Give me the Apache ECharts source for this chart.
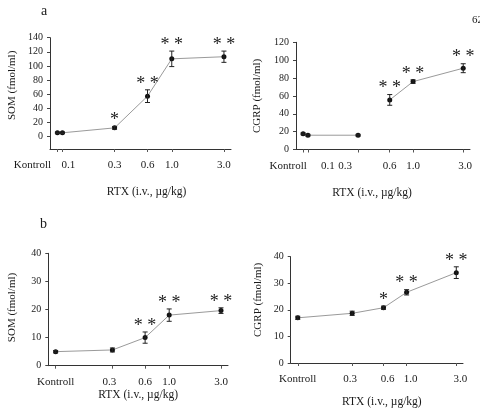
<!DOCTYPE html>
<html>
<head>
<meta charset="utf-8">
<script src="https://cdn.jsdelivr.net/npm/echarts@6/dist/echarts.min.js"></script>
<style>
  html, body { margin: 0; padding: 0; background: #fff; }
  #chart { width: 480px; height: 409px; }
</style>
</head>
<body>
<div id="chart"></div>
<script>
// Dose groups in µg/kg (log axis). The control group is plotted just left of the lowest dose.
const labelsA = ['Kontroll', '0.1', '0.3', '0.6', '1.0', '3.0'];
const dosesA = [0.09, 0.1, 0.3, 0.6, 1.0, 3.0];
const labelsB = ['Kontroll', '0.3', '0.6', '1.0', '3.0'];
const dosesB = [0.09, 0.3, 0.6, 1.0, 3.0];

// a: SOM
const somA = [5, 5, 12, 57, 110, 113];
const somAErr = [1, 1, 2, 9, 11, 8];
const somASig = [0, 0, 1, 2, 2, 2];
// a: CGRP
const cgrpA = [17.5, 16, 16, 55.5, 76, 91];
const cgrpAErr = [1, 1, 1, 6, 2, 5];
const cgrpASig = [0, 0, 0, 2, 2, 2];
// b: SOM
const somB = [5, 5.6, 10, 18, 19.6];
const somBErr = [0.4, 0.7, 2, 2.2, 1];
const somBSig = [0, 0, 2, 2, 2];
// b: CGRP
const cgrpB = [17, 18.7, 20.8, 26.6, 34];
const cgrpBErr = [0.6, 0.8, 0.6, 1, 2.2];
const cgrpBSig = [0, 0, 1, 2, 2];

// y tick labels
const somATicks = [0, 20, 40, 60, 80, 100, 120, 140];
const cgrpATicks = [0, 20, 40, 60, 80, 100, 120];
const bTicks = [0, 10, 20, 30, 40];

const FONT = '"Liberation Serif", "DejaVu Serif", serif';
const INK = '#1a1a1a';
const lg = v => Math.log10(v);

// horizontal nudge (px) of each dose label relative to its tick
const panels = [
  { grid: { left: 50, top: 37.7, width: 181, height: 111.3 },
    doses: dosesA, labels: labelsA, nudge: [-25, 6, 0, 0, 0, 0],
    values: somA, errs: somAErr, sig: somASig, breaks: [],
    yMin: -18, yMax: 140, yTicks: somATicks, yName: 'SOM (fmol/ml)',
    yNameGap: 32.5, yNamePad: [0, 0, 0, 16], xNameGap: 37, xNamePad: [0, 0, 0, 12] },
  { grid: { left: 296, top: 42.3, width: 174, height: 107.2 },
    doses: dosesA, labels: labelsA, nudge: [-15, 20, -13, 0, 0, 2],
    values: cgrpA, errs: cgrpAErr, sig: cgrpASig, breaks: [2],
    yMin: 0, yMax: 120, yTicks: cgrpATicks, yName: 'CGRP (fmol/ml)',
    yNameGap: 33.5, yNamePad: [0, 0, 0, 0], xNameGap: 37, xNamePad: [0, 22, 0, 0] },
  { grid: { left: 48.3, top: 253.3, width: 179.7, height: 112.4 },
    doses: dosesB, labels: labelsB, nudge: [0, -3, 0, 0, 0],
    values: somB, errs: somBErr, sig: somBSig, breaks: [],
    yMin: 0, yMax: 40, yTicks: bTicks, yName: 'SOM (fmol/ml)',
    yNameGap: 30.5, yNamePad: [0, 0, 0, 4], xNameGap: 21.5, xNamePad: [0, 0, 0, 0] },
  { grid: { left: 290.7, top: 256.7, width: 172.3, height: 107.6 },
    doses: dosesB, labels: labelsB, nudge: [0, -2, 4, 4, 4],
    values: cgrpB, errs: cgrpBErr, sig: cgrpBSig, breaks: [],
    yMin: 0, yMax: 40, yTicks: bTicks, yName: 'CGRP (fmol/ml)',
    yNameGap: 27, yNamePad: [0, 0, 0, 20], xNameGap: 33, xNamePad: [0, 0, 0, 10] }
];

const X_MIN = lg(0.077), X_MAX = lg(3.48);

const grids = [], xAxes = [], yAxes = [], series = [];

panels.forEach((p, i) => {
  grids.push(Object.assign({ containLabel: false }, p.grid));

  // one rich style per label so each can carry its own nudge
  const rich = {};
  p.labels.forEach((t, k) => {
    const n = p.nudge[k];
    rich['l' + k] = {
      fontFamily: FONT, fontSize: 11, color: INK,
      padding: n >= 0 ? [0, 0, 0, 2 * n] : [0, -2 * n, 0, 0]
    };
  });

  xAxes.push({
    type: 'value', gridIndex: i, min: X_MIN, max: X_MAX,
    name: 'RTX (i.v., µg/kg)', nameLocation: 'middle', nameGap: p.xNameGap,
    nameTextStyle: { fontFamily: FONT, fontSize: 11.5, color: INK, padding: p.xNamePad },
    axisLine: { onZero: false, lineStyle: { color: '#333', width: 1 } },
    axisTick: { show: true, length: 3, customValues: p.doses.map(lg), lineStyle: { color: '#555' } },
    axisLabel: {
      customValues: p.doses.map(lg), margin: 11, hideOverlap: false,
      fontFamily: FONT, fontSize: 11, color: INK, rich: rich,
      formatter: v => {
        let best = 0, d = Infinity;
        p.doses.forEach((a, k) => { const dd = Math.abs(lg(a) - v); if (dd < d) { d = dd; best = k; } });
        return '{l' + best + '|' + p.labels[best] + '}';
      }
    },
    splitLine: { show: false }
  });

  yAxes.push({
    type: 'value', gridIndex: i, min: p.yMin, max: p.yMax,
    name: p.yName, nameLocation: 'middle', nameGap: p.yNameGap,
    nameTextStyle: { fontFamily: FONT, fontSize: 11, color: INK, padding: p.yNamePad },
    axisLine: { show: true, onZero: false, lineStyle: { color: '#333', width: 1 } },
    axisTick: { show: true, length: 3, customValues: p.yTicks, lineStyle: { color: '#444' } },
    axisLabel: { customValues: p.yTicks, margin: 7, fontFamily: FONT, fontSize: 10, color: INK },
    splitLine: { show: false }
  });

  // connecting line, split where the curve is interrupted
  const pts = p.doses.map((d, k) => [lg(d), p.values[k]]);
  const cuts = [0].concat(p.breaks.map(b => b + 1), [pts.length]);
  for (let s = 0; s < cuts.length - 1; s++) {
    series.push({
      type: 'line', xAxisIndex: i, yAxisIndex: i,
      data: pts.slice(cuts[s], cuts[s + 1]),
      symbol: 'circle', symbolSize: 5,
      itemStyle: { color: '#111' },
      lineStyle: { color: '#9a9a9a', width: 1 },
      z: 3, silent: true
    });
  }

  // SEM bars and significance marks
  series.push({
    type: 'custom', xAxisIndex: i, yAxisIndex: i, z: 4, silent: true,
    data: p.doses.map((d, k) => [lg(d), p.values[k], p.errs[k], p.sig[k]]),
    encode: { x: 0, y: 1 },
    renderItem: (params, api) => {
      const x = api.value(0), y = api.value(1), e = api.value(2), n = api.value(3);
      const top = api.coord([x, y + e]);
      const bot = api.coord([x, y - e]);
      const cap = 2.5;
      const children = [
        { type: 'line', shape: { x1: top[0], y1: top[1], x2: bot[0], y2: bot[1] }, style: { stroke: '#222', lineWidth: 1 } },
        { type: 'line', shape: { x1: top[0] - cap, y1: top[1], x2: top[0] + cap, y2: top[1] }, style: { stroke: '#222', lineWidth: 1 } },
        { type: 'line', shape: { x1: bot[0] - cap, y1: bot[1], x2: bot[0] + cap, y2: bot[1] }, style: { stroke: '#222', lineWidth: 1 } }
      ];
      if (n > 0) {
        children.push({
          type: 'text',
          style: {
            text: n === 2 ? '* *' : '*', x: top[0], y: top[1] - 6,
            fill: '#222', font: '18px ' + FONT, align: 'center', verticalAlign: 'middle'
          }
        });
      }
      return { type: 'group', children };
    }
  });
});

const chart = echarts.init(document.getElementById('chart'), null, { renderer: 'canvas' });
chart.setOption({
  backgroundColor: '#fff',
  animation: false,
  grid: grids,
  xAxis: xAxes,
  yAxis: yAxes,
  series: series,
  graphic: [
    { type: 'text', left: 41, top: 4, style: { text: 'a', font: '14px ' + FONT, fill: INK } },
    { type: 'text', left: 40, top: 217, style: { text: 'b', font: '14px ' + FONT, fill: INK } },
    { type: 'text', left: 472, top: 15, style: { text: '62', font: '11px ' + FONT, fill: INK } }
  ]
});
</script>
</body>
</html>
